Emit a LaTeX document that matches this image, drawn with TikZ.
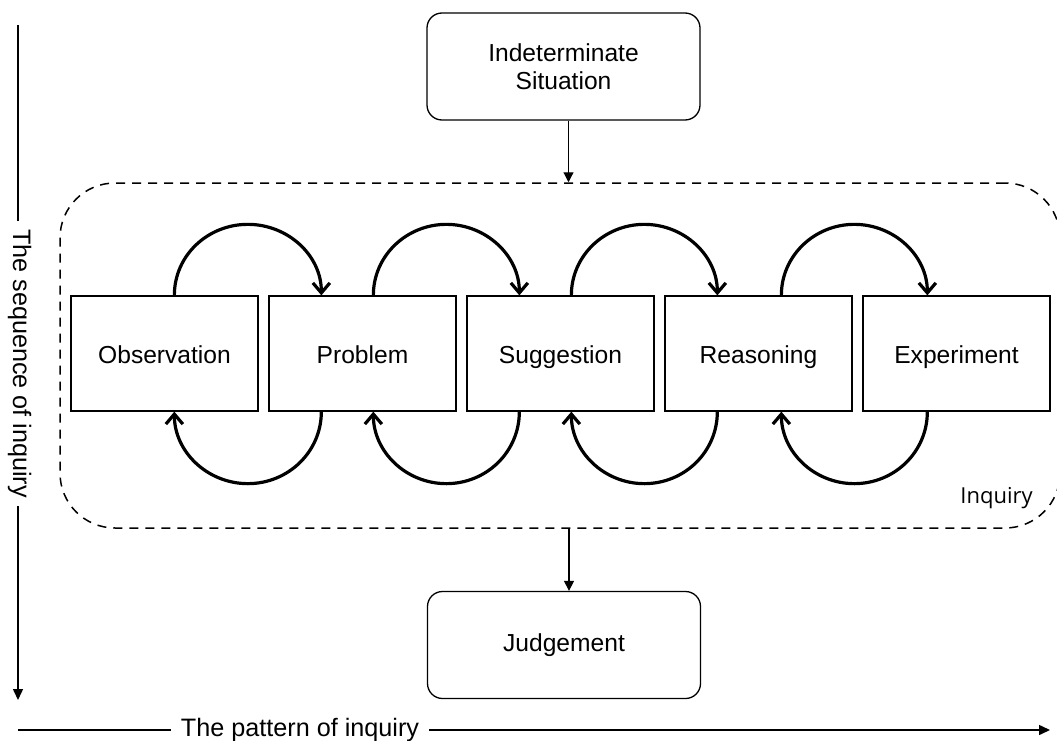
\documentclass[tikz,border=0pt]{standalone}
\usepackage{fontspec}
\setmainfont{Liberation Sans}
\newfontfamily\labelfont{Open Sans}
\usetikzlibrary{arrows.meta,calc}

\begin{document}
\begin{tikzpicture}[x=1pt,y=1pt,
  font=\fontsize{24.6}{28.5}\selectfont,
  stage/.style={draw, line width=1.3pt, minimum width=187pt, minimum height=115pt,
    inner sep=0pt, text height=24pt, text depth=5pt},
  endpoint/.style={draw, line width=1.3pt, rounded corners=15pt, minimum width=273pt,
    minimum height=107pt, align=center, inner sep=0pt},
  group/.style={draw, line width=1.5pt, dash pattern=on 9pt off 7pt, rounded corners=55pt,
    minimum width=1000pt, minimum height=345pt, inner sep=0pt},
  flow/.style={line width=1.2pt, -{Triangle[width=10pt,length=10pt]}},
  axis/.style={line width=1.5pt},
  axisarrow/.style={axis, -{Triangle[width=10pt,length=11pt]}},
  axislabel/.style={font=\fontsize{25.2}{30}\selectfont},
  loop/.style={line width=3.2pt, -{Straight Barb[length=10pt,width=17pt]}},
]
\useasboundingbox (0,0) rectangle (1057,-741);
\clip (0,0) rectangle (1057,-741);

% start and end of the inquiry
\node[endpoint] (sit) at (563.5,-66.5) {Indeterminate\\Situation};
\node[endpoint] (jud) at (564,-645) {Judgement};

% dashed inquiry frame
\node[group] (inq) at (560,-355.5) {};
\node[font=\labelfont\fontsize{22}{26}\selectfont, anchor=base] (inqlabel) at (996.5,-503) {Inquiry};

% the five stages
\node[stage] (obs) at (164.5,-353.5) {Observation};
\node[stage] (prob) at (362.5,-353.5) {Problem};
\node[stage] (sug) at (560.5,-353.5) {Suggestion};
\node[stage] (rea) at (758.5,-353.5) {Reasoning};
\node[stage] (exp) at (956.5,-353.5) {Experiment};

% flow into and out of the inquiry
\draw[flow] ([xshift=5pt]sit.south) -- ([xshift=5pt]sit.south |- inq.north);
\draw[flow] ([xshift=5pt]jud.north |- inq.south) -- ([xshift=5pt]jud.north);

% forward loops over the top, backward loops underneath
\foreach \srcnode/\srcoff/\dstnode/\dstoff in
    {obs/104/prob/53, prob/105/sug/53, sug/105/rea/53, rea/117/exp/65} {
  \coordinate (fs) at ([xshift=\srcoff pt]\srcnode.north west);
  \coordinate (fe) at ([xshift=\dstoff pt]\dstnode.north west);
  \draw[loop] (fs) to[out=90,in=180] ($(fs)!0.5!(fe)+(0,71)$) to[out=0,in=90] (fe);
  \coordinate (bs) at ([xshift=\dstoff pt]\dstnode.south west);
  \coordinate (be) at ([xshift=\srcoff pt]\srcnode.south west);
  \draw[loop] (bs) to[out=-90,in=0] ($(bs)!0.5!(be)+(0,-72)$) to[out=180,in=-90] (be);
}

% vertical axis: the sequence of inquiry
\coordinate (vtop) at (18,-25);
\coordinate (vbot) at (18,-700);
\node[axislabel, rotate=-90, anchor=base, inner xsep=8pt] (vtext) at (13,-363.5) {The sequence of inquiry};
\draw[axis] (vtop) -- (vtop |- vtext.west);
\draw[axisarrow] (vtop |- vtext.east) -- (vbot);

% horizontal axis: the pattern of inquiry
\coordinate (hstart) at (18,-730);
\coordinate (hend) at (1050,-730);
\node[axislabel, anchor=base, inner xsep=10pt] (htext) at (300,-736) {The pattern of inquiry};
\draw[axis] (hstart) -- (hstart -| htext.west);
\draw[axisarrow] (hstart -| htext.east) -- (hend);
\end{tikzpicture}
\end{document}
